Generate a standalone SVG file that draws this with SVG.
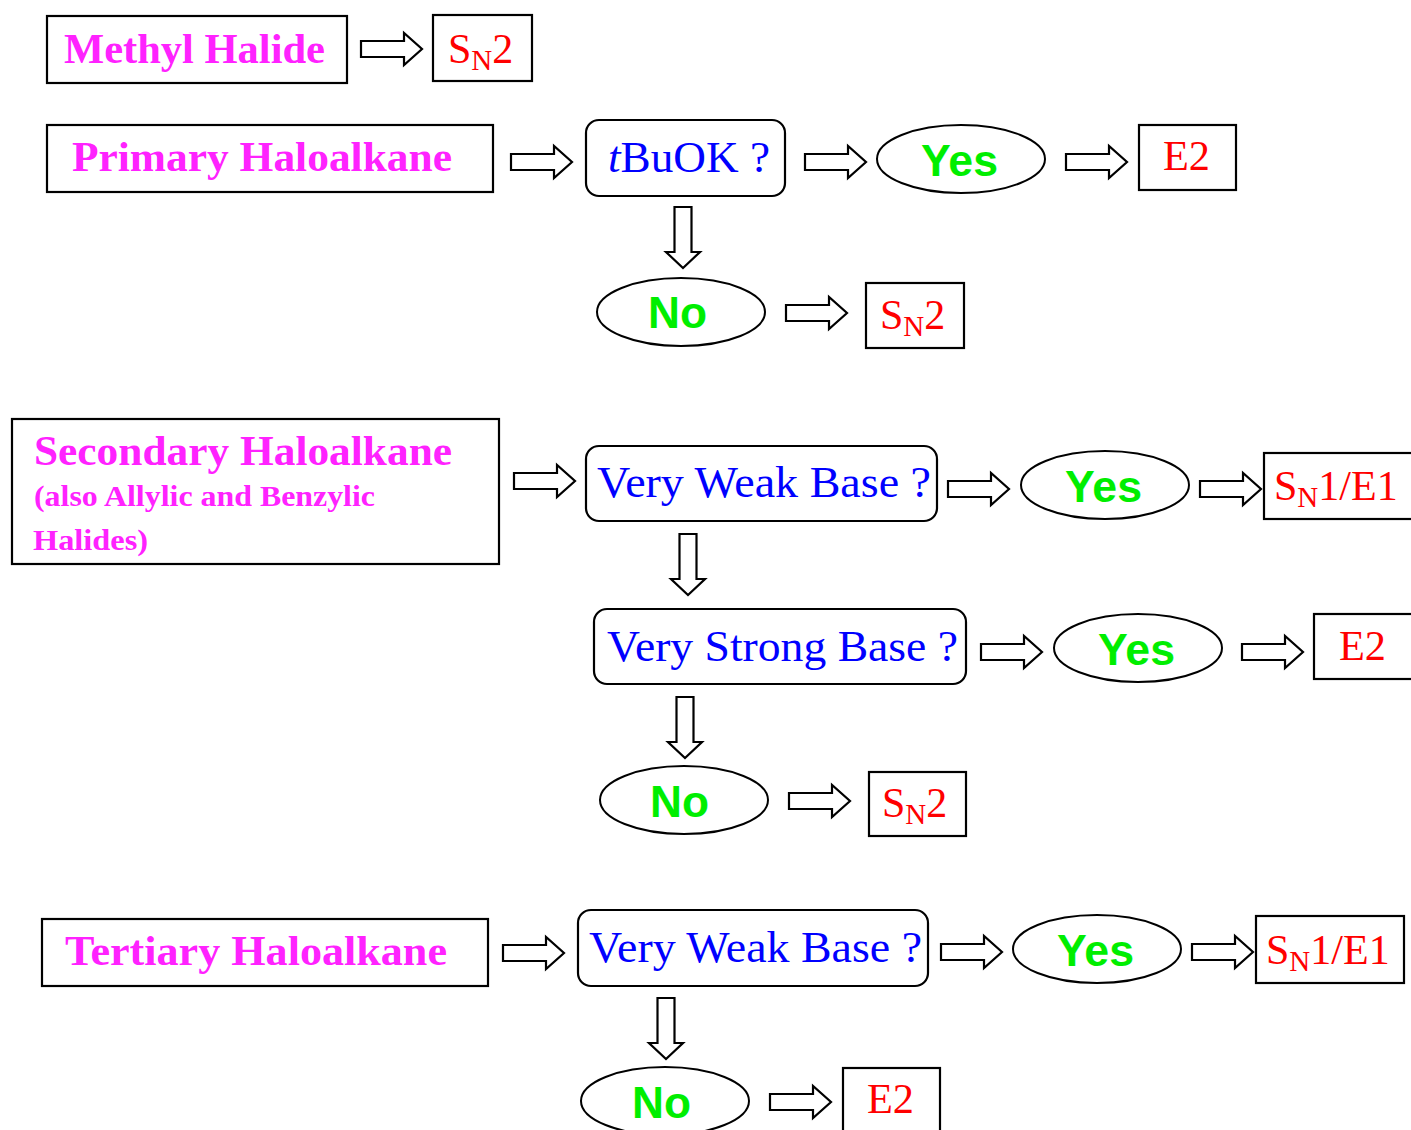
<svg xmlns="http://www.w3.org/2000/svg" xmlns:xlink="http://www.w3.org/1999/xlink" width="1411" height="1130" viewBox="0 0 1411 1130">
<style>
.box{fill:#fff;stroke:#000;stroke-width:2.2}
.ell{fill:#fff;stroke:#000;stroke-width:2}
.arr{fill:#fff;stroke:#000;stroke-width:2.2;stroke-linejoin:miter}
.mag{font-family:"Liberation Serif","Times New Roman",serif;font-weight:bold;fill:#ff22ff;font-size:42px}
.mag.sm{font-size:29px}
.blu{font-family:"Liberation Serif","Times New Roman",serif;fill:#0000ff;font-size:44px}
.red{font-family:"Liberation Serif","Times New Roman",serif;fill:#ff0000;font-size:42px}
.grn{font-family:"Liberation Sans",Arial,sans-serif;font-weight:bold;fill:#00ee00;font-size:45px}
.sub{font-size:29px}
</style>
<defs>
<path id="ha" class="arr" d="M0,-8 H43 V-16 L61,0 L43,16 V8 H0 Z"/>
<path id="va" class="arr" d="M-8.5,0 V45 H-17 L0,61 L17,45 H8.5 V0 Z"/>
</defs>
<rect width="1411" height="1130" fill="#fff"/>
<g id="connectors">
<use xlink:href="#ha" x="361" y="49"/>
<use xlink:href="#ha" x="511" y="162"/>
<use xlink:href="#ha" x="805" y="162"/>
<use xlink:href="#ha" x="1066" y="162"/>
<use xlink:href="#ha" x="786" y="313"/>
<use xlink:href="#ha" x="514" y="481"/>
<use xlink:href="#ha" x="948" y="489"/>
<use xlink:href="#ha" x="1200" y="489"/>
<use xlink:href="#ha" x="981" y="652"/>
<use xlink:href="#ha" x="1242" y="652"/>
<use xlink:href="#ha" x="789" y="801"/>
<use xlink:href="#ha" x="503" y="953"/>
<use xlink:href="#ha" x="941" y="952"/>
<use xlink:href="#ha" x="1192" y="952"/>
<use xlink:href="#ha" x="770" y="1102"/>
<use xlink:href="#va" x="683" y="207"/>
<use xlink:href="#va" x="688" y="534"/>
<use xlink:href="#va" x="685" y="697"/>
<use xlink:href="#va" x="666" y="998"/>
</g>
<g id="methyl"><rect class="box" x="47" y="16" width="300" height="67"/><text class="mag" x="64" y="63" textLength="261" lengthAdjust="spacingAndGlyphs">Methyl Halide</text></g>
<g id="methyl-sn2"><rect class="box" x="433" y="15" width="99" height="66"/><text class="red" x="448" y="63">S<tspan class="sub" dy="7">N</tspan><tspan dy="-7">2</tspan></text></g>

<g id="primary"><rect class="box" x="47" y="125" width="446" height="67"/><text class="mag" x="72" y="171" textLength="380" lengthAdjust="spacingAndGlyphs">Primary  Haloalkane</text></g>
<g id="tbuok"><rect class="box" x="586" y="120" width="199" height="76" rx="13"/><text class="blu" x="608" y="172" textLength="162" lengthAdjust="spacingAndGlyphs"><tspan font-style="italic">t</tspan>BuOK ?</text></g>
<g id="p-yes"><ellipse class="ell" cx="961" cy="159" rx="84" ry="34"/><text class="grn" x="921" y="176" textLength="77" lengthAdjust="spacingAndGlyphs">Yes</text></g>
<g id="p-e2"><rect class="box" x="1139" y="125" width="97" height="65"/><text class="red" x="1163" y="170" textLength="47" lengthAdjust="spacingAndGlyphs">E2</text></g>
<g id="p-no"><ellipse class="ell" cx="681" cy="312" rx="84" ry="34"/><text class="grn" x="648" y="328" textLength="59" lengthAdjust="spacingAndGlyphs">No</text></g>
<g id="p-sn2"><rect class="box" x="866" y="283" width="98" height="65"/><text class="red" x="880" y="329">S<tspan class="sub" dy="7">N</tspan><tspan dy="-7">2</tspan></text></g>

<g id="secondary"><rect class="box" x="12" y="419" width="487" height="145"/>
<text class="mag" x="34" y="465" textLength="418" lengthAdjust="spacingAndGlyphs">Secondary  Haloalkane</text>
<text class="mag sm" x="34" y="506" textLength="341" lengthAdjust="spacingAndGlyphs">(also Allylic and Benzylic</text>
<text class="mag sm" x="33" y="550" textLength="115" lengthAdjust="spacingAndGlyphs">Halides)</text></g>
<g id="s-weak"><rect class="box" x="586" y="446" width="351" height="75" rx="13"/><text class="blu" x="597" y="497" textLength="334" lengthAdjust="spacingAndGlyphs">Very Weak Base ?</text></g>
<g id="s-yes1"><ellipse class="ell" cx="1105" cy="485" rx="84" ry="34"/><text class="grn" x="1065" y="502" textLength="77" lengthAdjust="spacingAndGlyphs">Yes</text></g>
<g id="s-sn1e1"><rect class="box" x="1264" y="453" width="150" height="66"/><text class="red" x="1274" y="500">S<tspan class="sub" dy="7">N</tspan><tspan dy="-7">1/E1</tspan></text></g>
<g id="s-strong"><rect class="box" x="594" y="609" width="372" height="75" rx="13"/><text class="blu" x="607" y="661" textLength="351" lengthAdjust="spacingAndGlyphs">Very Strong Base ?</text></g>
<g id="s-yes2"><ellipse class="ell" cx="1138" cy="648" rx="84" ry="34"/><text class="grn" x="1098" y="665" textLength="77" lengthAdjust="spacingAndGlyphs">Yes</text></g>
<g id="s-e2"><rect class="box" x="1314" y="614" width="100" height="65"/><text class="red" x="1339" y="660" textLength="47" lengthAdjust="spacingAndGlyphs">E2</text></g>
<g id="s-no"><ellipse class="ell" cx="684" cy="800" rx="84" ry="34"/><text class="grn" x="650" y="817" textLength="59" lengthAdjust="spacingAndGlyphs">No</text></g>
<g id="s-sn2"><rect class="box" x="869" y="772" width="97" height="64"/><text class="red" x="882" y="817">S<tspan class="sub" dy="7">N</tspan><tspan dy="-7">2</tspan></text></g>

<g id="tertiary"><rect class="box" x="42" y="919" width="446" height="67"/><text class="mag" x="65" y="965" textLength="382" lengthAdjust="spacingAndGlyphs">Tertiary  Haloalkane</text></g>
<g id="t-weak"><rect class="box" x="578" y="910" width="350" height="76" rx="13"/><text class="blu" x="589" y="962" textLength="333" lengthAdjust="spacingAndGlyphs">Very Weak Base ?</text></g>
<g id="t-yes"><ellipse class="ell" cx="1097" cy="949" rx="84" ry="34"/><text class="grn" x="1057" y="966" textLength="77" lengthAdjust="spacingAndGlyphs">Yes</text></g>
<g id="t-sn1e1"><rect class="box" x="1256" y="916" width="148" height="67"/><text class="red" x="1266" y="964">S<tspan class="sub" dy="7">N</tspan><tspan dy="-7">1/E1</tspan></text></g>
<g id="t-no"><ellipse class="ell" cx="665" cy="1101" rx="84" ry="34"/><text class="grn" x="632" y="1118" textLength="59" lengthAdjust="spacingAndGlyphs">No</text></g>
<g id="t-e2"><rect class="box" x="843" y="1068" width="97" height="70"/><text class="red" x="867" y="1113" textLength="47" lengthAdjust="spacingAndGlyphs">E2</text></g>
</svg>
